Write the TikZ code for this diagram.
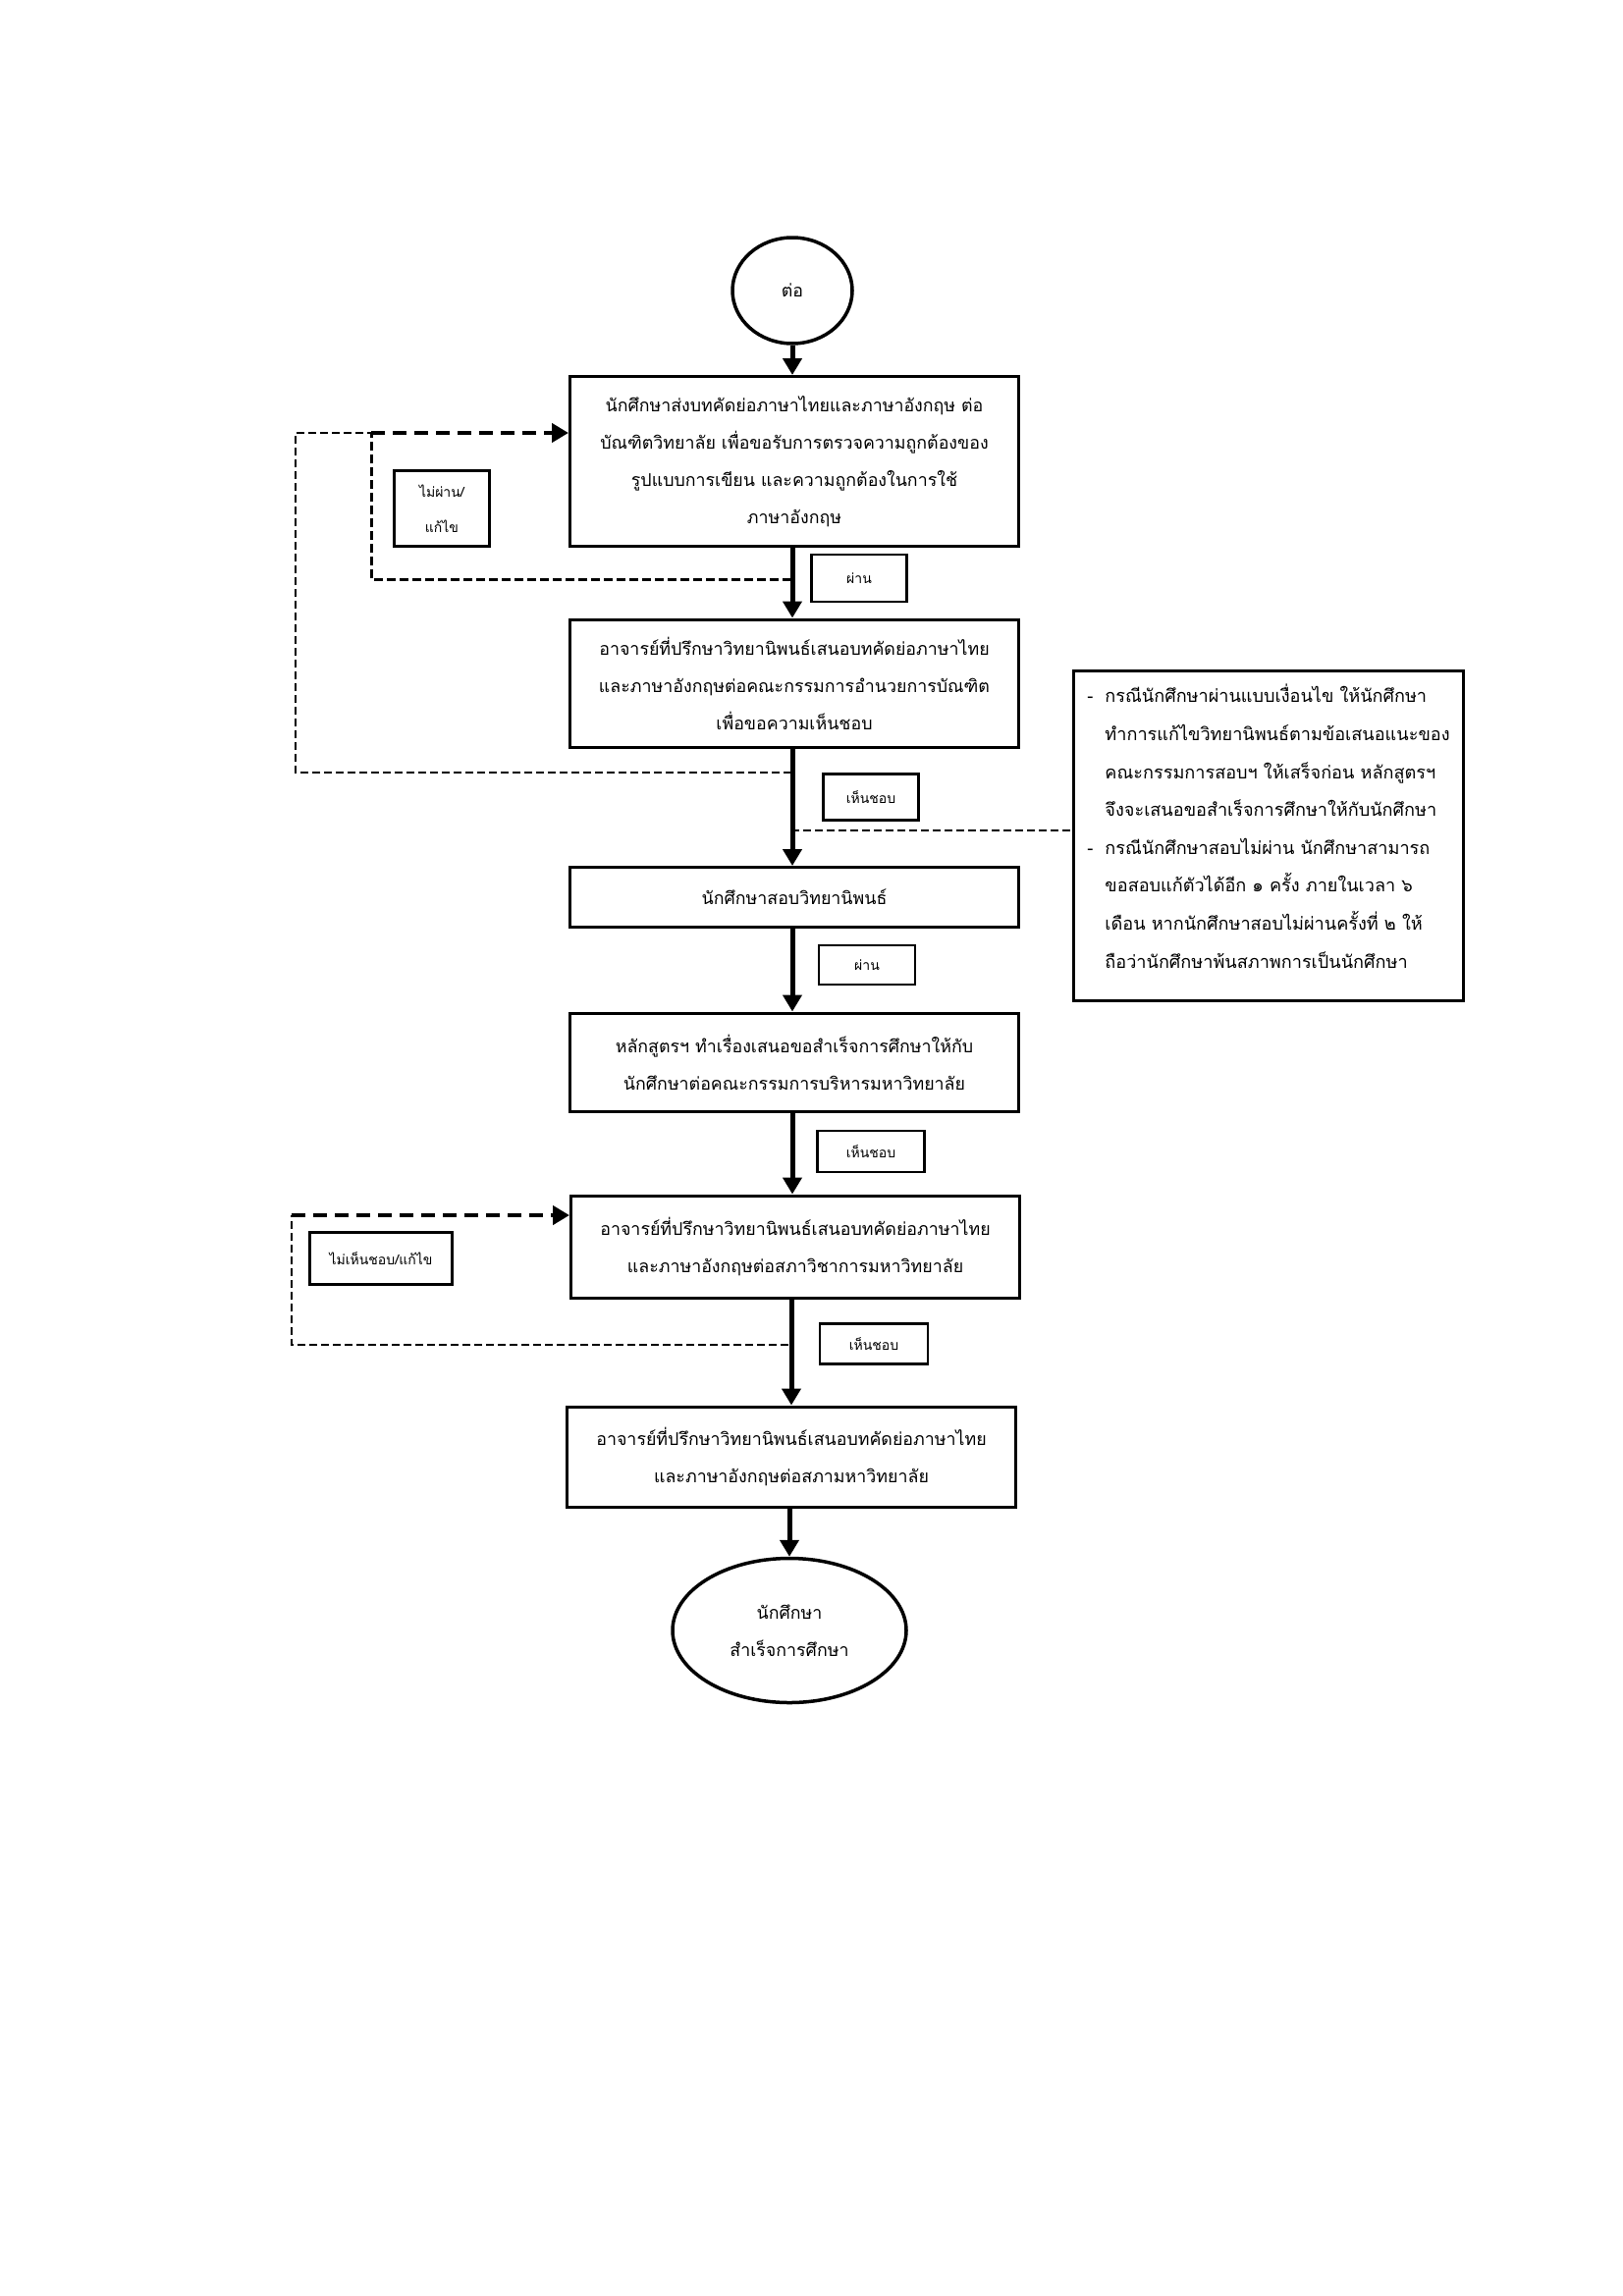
\documentclass[tikz,border=0pt]{standalone}
\usepackage{fontspec}
\newfontfamily\thai[Script=Thai]{Loma}
\usetikzlibrary{arrows.meta,shapes.geometric}
\begin{document}
\begin{tikzpicture}[x=1pt,y=-1pt,
  font=\thai\fontsize{17.8}{38}\selectfont,
  box/.style={draw, line width=3pt, minimum width=457pt, align=center, inner sep=0pt},
  lab/.style={draw, line width=2.6pt, align=center, inner sep=0pt, font=\thai\fontsize{14}{36}\selectfont},
  oval/.style={draw, ellipse, line width=3.5pt, align=center, inner sep=0pt},
  flow/.style={line width=5pt, -{Triangle[width=19pt,length=17pt]}},
  thickdash/.style={line width=4.5pt, dash pattern=on 14pt off 8pt},
  meddash/.style={line width=3pt, dash pattern=on 9pt off 4pt},
  thindash/.style={line width=2.2pt, dash pattern=on 8pt off 4pt},
  dtip/.style={-{Triangle[width=19pt,length=17pt]}}]
\useasboundingbox (0,0) rectangle (1653,2339);

% main nodes
\node[oval, minimum width=122pt, minimum height=108pt] (start) at (807,296) {ต่อ};
\node[box, minimum height=173pt] (b1) at (809,470)
  {นักศึกษาส่งบทคัดย่อภาษาไทยและภาษาอังกฤษ ต่อ\\บัณฑิตวิทยาลัย เพื่อขอรับการตรวจความถูกต้องของ\\รูปแบบการเขียน และความถูกต้องในการใช้\\ภาษาอังกฤษ};
\node[box, minimum height=130pt] (b2) at (809,696)
  {อาจารย์ที่ปรึกษาวิทยานิพนธ์เสนอบทคัดย่อภาษาไทย\\และภาษาอังกฤษต่อคณะกรรมการอำนวยการบัณฑิต\\เพื่อขอความเห็นชอบ};
\node[box, minimum height=61pt] (b3) at (809,914) {นักศึกษาสอบวิทยานิพนธ์};
\node[box, minimum height=100pt] (b4) at (809,1082)
  {หลักสูตรฯ ทำเรื่องเสนอขอสำเร็จการศึกษาให้กับ\\นักศึกษาต่อคณะกรรมการบริหารมหาวิทยาลัย};
\node[box, minimum height=104pt] (b5) at (810,1270)
  {อาจารย์ที่ปรึกษาวิทยานิพนธ์เสนอบทคัดย่อภาษาไทย\\และภาษาอังกฤษต่อสภาวิชาการมหาวิทยาลัย};
\node[box, minimum height=102pt] (b6) at (806,1484)
  {อาจารย์ที่ปรึกษาวิทยานิพนธ์เสนอบทคัดย่อภาษาไทย\\และภาษาอังกฤษต่อสภามหาวิทยาลัย};
\node[oval, minimum width=238pt, minimum height=147pt] (end) at (804,1661)
  {นักศึกษา\\สำเร็จการศึกษา};

% note box
\node[draw, line width=3pt, minimum width=397pt, minimum height=336pt, align=left, inner sep=0pt,
      font=\thai\fontsize{18.1}{38.6}\selectfont] (note) at (1292,851)
  {\makebox[18pt][l]{-}กรณีนักศึกษาผ่านแบบเงื่อนไข ให้นักศึกษา\\
   \hspace*{18pt}ทำการแก้ไขวิทยานิพนธ์ตามข้อเสนอแนะของ\\
   \hspace*{18pt}คณะกรรมการสอบฯ ให้เสร็จก่อน หลักสูตรฯ\\
   \hspace*{18pt}จึงจะเสนอขอสำเร็จการศึกษาให้กับนักศึกษา\\
   \makebox[18pt][l]{-}กรณีนักศึกษาสอบไม่ผ่าน นักศึกษาสามารถ\\
   \hspace*{18pt}ขอสอบแก้ตัวได้อีก ๑ ครั้ง ภายในเวลา ๖\\
   \hspace*{18pt}เดือน หากนักศึกษาสอบไม่ผ่านครั้งที่ ๒ ให้\\
   \hspace*{18pt}ถือว่านักศึกษาพ้นสภาพการเป็นนักศึกษา\\[-20pt]\mbox{}};

% labels
\node[lab, minimum width=97pt, minimum height=77pt] (l1) at (450,518) {ไม่ผ่าน/\\แก้ไข};
\node[lab, minimum width=97pt, minimum height=48pt] (l2) at (875,589) {ผ่าน};
\node[lab, minimum width=97pt, minimum height=47pt] (l3) at (887,812) {เห็นชอบ};
\node[lab, minimum width=98pt, minimum height=40pt] (l4) at (883,983) {ผ่าน};
\node[lab, minimum width=109pt, minimum height=42pt] (l5) at (887,1173) {เห็นชอบ};
\node[lab, minimum width=145pt, minimum height=53pt] (l6) at (388,1282) {ไม่เห็นชอบ/แก้ไข};
\node[lab, minimum width=110pt, minimum height=41pt] (l7) at (890,1369) {เห็นชอบ};

% main flow
\draw[flow] (start.south) -- (b1.north -| start.south);
\draw[flow] (b1.south -| start.south) -- (b2.north -| start.south);
\draw[flow] (b2.south -| start.south) -- (b3.north -| start.south);
\draw[flow] (b3.south -| start.south) -- (b4.north -| start.south);
\draw[flow] (b4.south -| start.south) -- (b5.north -| start.south);
\draw[flow] (b5.south -| b6.north) -- (b6.north);
\draw[flow] (b6.south -| end.north) -- (end.north);

% loop 1 (inner) and loop 2 (outer)
\coordinate (j1) at (806,590);
\coordinate (c1) at (378,590);
\coordinate (c2) at (378,441);
\coordinate (j2) at (806,787);
\coordinate (c3) at (301,787);
\coordinate (c4) at (301,441);
\draw[meddash] (j1) -- (c1) -- (c2);
\draw[thickdash, dtip] (c2) -- (c2 -| b1.west);
\draw[thindash] (j2) -- (c3) -- (c4) -- (c2);

% note connector
\coordinate (j3) at (806,846);
\draw[thindash] (j3) -- (j3 -| note.west);

% loop 3
\coordinate (j4) at (803,1370);
\coordinate (c5) at (297,1370);
\coordinate (c6) at (297,1238);
\draw[thindash] (j4) -- (c5) -- (c6);
\draw[thickdash, dtip] (c6) -- (c6 -| b5.west);
\end{tikzpicture}
\end{document}
